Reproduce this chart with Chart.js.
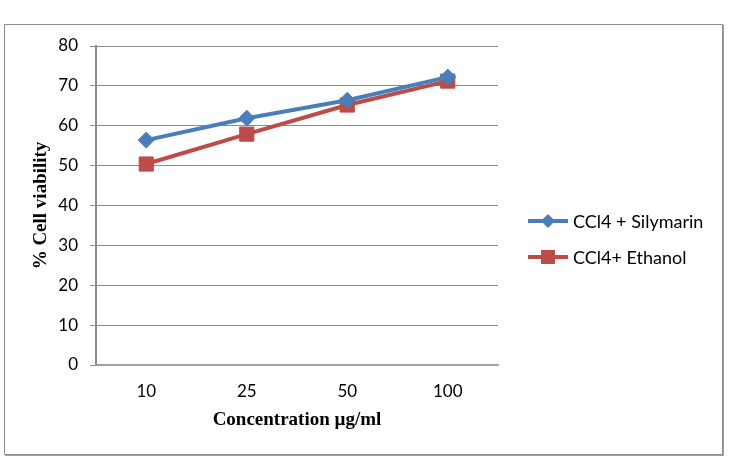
<!DOCTYPE html>
<html>
<head>
<meta charset="utf-8">
<script src="https://cdn.jsdelivr.net/npm/chart.js@4"></script>
<style>
html,body{margin:0;padding:0;background:#fff;}
#wrap{position:relative;width:734px;height:460px;}
</style>
</head>
<body>
<div id="wrap"><canvas id="c" width="734" height="460"></canvas></div>
<script>
const categories = ['10', '25', '50', '100'];
const silymarin = [56.4, 61.9, 66.4, 72.2];
const ethanol = [50.4, 57.9, 65.2, 71.2];
const yTicks = [0, 10, 20, 30, 40, 50, 60, 70, 80];
const seriesLabels = ['CCl4 + Silymarin', 'CCl4+ Ethanol'];
const xTitle = 'Concentration µg/ml';
const yTitle = '% Cell viability';

const tickFont = {family: 'Lato, "Liberation Sans", sans-serif', size: 17};
const titleFont = {family: '"Liberation Serif", "Times New Roman", serif', size: 19, weight: 'bold'};

const framePlugin = {
  id: 'frame',
  beforeDraw(chart) {
    const ctx = chart.ctx;
    ctx.save();
    ctx.fillStyle = '#fff';
    ctx.fillRect(0, 0, chart.width, chart.height);
    ctx.strokeStyle = '#8c8c8c';
    ctx.lineWidth = 1;
    ctx.strokeRect(4.5, 24.5, 718, 430);
    ctx.strokeStyle = '#a0a0a0';
    ctx.beginPath();
    ctx.moveTo(5, 455.5); ctx.lineTo(724, 455.5);
    ctx.moveTo(723.5, 25); ctx.lineTo(723.5, 456);
    ctx.stroke();
    ctx.restore();
  }
};

const legendPlugin = {
  id: 'customLegend',
  afterDraw(chart) {
    const ctx = chart.ctx;
    const ys = [221, 257];
    chart.data.datasets.forEach((ds, i) => {
      const y = ys[i];
      ctx.save();
      ctx.strokeStyle = ds.borderColor;
      ctx.lineWidth = 4;
      ctx.beginPath();
      ctx.moveTo(528, y); ctx.lineTo(568, y);
      ctx.stroke();
      ctx.fillStyle = ds.pointBackgroundColor;
      if (ds.pointStyle === 'rectRot') {
        ctx.beginPath();
        ctx.moveTo(548, y - 7); ctx.lineTo(555, y); ctx.lineTo(548, y + 7); ctx.lineTo(541, y);
        ctx.closePath(); ctx.fill();
      } else {
        ctx.fillRect(541, y - 7, 14, 14);
      }
      ctx.fillStyle = '#000';
      ctx.font = '18px ' + tickFont.family;
      ctx.textBaseline = 'middle';
      ctx.textAlign = 'left';
      ctx.fillText(ds.label, 573, y + 1);
      ctx.restore();
    });
  }
};

new Chart(document.getElementById('c'), {
  type: 'line',
  data: {
    labels: categories,
    datasets: [
      {
        label: seriesLabels[0],
        data: silymarin,
        borderColor: '#4A7EBB',
        backgroundColor: '#4A7EBB',
        pointBackgroundColor: '#4A7EBB',
        pointBorderColor: '#4A7EBB',
        borderWidth: 4,
        pointStyle: 'rectRot',
        pointRadius: 8,
        pointBorderWidth: 1,
        tension: 0
      },
      {
        label: seriesLabels[1],
        data: ethanol,
        borderColor: '#BE4B48',
        backgroundColor: '#BE4B48',
        pointBackgroundColor: '#BE4B48',
        pointBorderColor: '#BE4B48',
        borderWidth: 4,
        pointStyle: 'rect',
        pointRadius: 10,
        pointBorderWidth: 1,
        tension: 0
      }
    ]
  },
  options: {
    responsive: false,
    animation: false,
    layout: {padding: {left: 22, right: 236, top: 46, bottom: 26}},
    plugins: {legend: {display: false}, tooltip: {enabled: false}},
    scales: {
      x: {
        offset: true,
        grid: {display: false, drawTicks: false},
        border: {display: true, color: '#a0a0a0', width: 2},
        ticks: {font: tickFont, color: '#000', padding: 16},
        title: {display: true, text: xTitle, font: titleFont, color: '#000', padding: {top: 4, bottom: 3}},
        afterFit(s) { s.height = 69; }
      },
      y: {
        min: 0, max: 80,
        afterBuildTicks(s) { s.ticks = yTicks.map(v => ({value: v})); },
        grid: {color: '#8c8c8c', lineWidth: 1, tickLength: 6, tickColor: '#8c8c8c'},
        border: {display: true, color: '#8c8c8c', width: 2},
        ticks: {font: tickFont, color: '#000', padding: 12},
        title: {display: true, text: yTitle, font: titleFont, color: '#000', padding: {top: 8, bottom: 0}},
        afterFit(s) { s.width = 74; }
      }
    }
  },
  plugins: [framePlugin, legendPlugin]
});
</script>
</body>
</html>
